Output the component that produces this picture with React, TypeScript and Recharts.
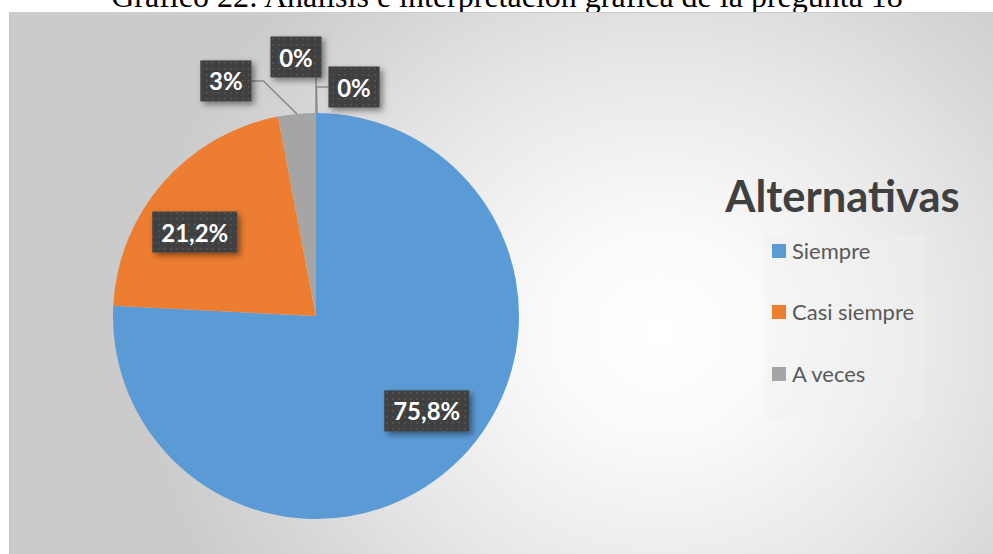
import React from 'react';
import { PieChart, Pie, Cell, Legend } from 'recharts';

// Chart values
const categories = ['Siempre', 'Casi siempre', 'A veces', 'Casi nunca', 'Nunca'];
const percentages = [75.8, 21.2, 3, 0, 0];
const sliceColors = ['#5B9BD5', '#ED7D31', '#A5A5A5', '#FFC000', '#4472C4'];

const chartTitle = 'Gráfico 22: Análisis e interpretación gráfica de la pregunta 18';
const legendTitle = 'Alternativas';

// label placement: radius factor from centre plus a small nudge (inside labels),
// or an offset from the slice's outer edge (callout labels)
const labelLayout = [
  { inside: true, r: 0.72, dx: 10, dy: -11 },
  { inside: true, r: 0.72, dx: -11, dy: 12 },
  { inside: false, r: 1, dx: -71, dy: -33 },
  { inside: false, r: 1, dx: -20, dy: -56 },
  { inside: false, r: 1, dx: 38, dy: -26 },
];

const pieData = categories.map((name, i) => ({ name, value: percentages[i] }));

const RADIAN = Math.PI / 180;

const formatPct = (v: number) =>
  Number.isInteger(v) ? `${v}%` : `${v.toFixed(1).replace('.', ',')}%`;

// rough glyph widths for Lato Bold, in em
const textWidth = (s: string, size: number) =>
  s.split('').reduce((w, ch) => {
    if (ch === '%') return w + 0.8;
    if (ch === ',') return w + 0.25;
    return w + 0.58;
  }, 0) * size;

const renderLabel = (props: any) => {
  const { cx, cy, midAngle, outerRadius, index, value } = props;
  const lay = labelLayout[index];
  if (!lay) return null;
  const cos = Math.cos(-midAngle * RADIAN);
  const sin = Math.sin(-midAngle * RADIAN);
  const text = formatPct(value);
  const fontSize = 24;
  const w = textWidth(text, fontSize) + 18;
  const h = 41;

  let bx: number;
  let by: number;
  let line: string | null = null;
  if (lay.inside) {
    bx = cx + outerRadius * lay.r * cos + lay.dx;
    by = cy + outerRadius * lay.r * sin + lay.dy;
  } else {
    const ax = cx + outerRadius * cos;
    const ay = cy + outerRadius * sin;
    bx = ax + lay.dx;
    by = ay + lay.dy;
    const left = bx - w / 2;
    const right = bx + w / 2;
    if (ax >= left && ax <= right) {
      line = `M${ax},${ay}L${ax},${by + h / 2}`;
    } else if (ax > right) {
      line = `M${ax},${ay}L${right + 12},${by}L${right},${by}`;
    } else {
      line = `M${ax + 1},${ay}L${left - 12},${by}L${left},${by}`;
    }
  }

  return (
    <g key={`lbl-${index}`}>
      {line && <path d={line} stroke="#8a8a8a" strokeWidth={1.5} fill="none" />}
      <g filter="url(#lblShadow)">
        <rect x={bx - w / 2} y={by - h / 2} width={w} height={h} fill="#404040" />
      </g>
      <rect x={bx - w / 2} y={by - h / 2} width={w} height={h} fill="url(#dots)" />
      <text
        x={bx}
        y={by}
        textAnchor="middle"
        dominantBaseline="central"
        fill="#ffffff"
        fontFamily="Lato, sans-serif"
        fontWeight={700}
        fontSize={fontSize}
      >
        {text}
      </text>
    </g>
  );
};

const renderLegend = (props: any) => {
  const items = (props.payload || [])
    .filter((p: any) => {
      const idx = categories.indexOf(p.value);
      return idx >= 0 && percentages[idx] > 0;
    })
    .sort((a: any, b: any) => categories.indexOf(a.value) - categories.indexOf(b.value));
  return (
    <div style={{ position: 'relative', width: 293, height: 270 }}>
      <div
        style={{
          position: 'absolute',
          left: 0,
          top: 14,
          width: 285,
          textAlign: 'center',
          fontFamily: 'Lato, sans-serif',
          fontWeight: 700,
          fontSize: 43.5,
          lineHeight: '43px',
          color: '#404040',
        }}
      >
        {legendTitle}
      </div>
      <div
        style={{
          position: 'absolute',
          left: 64,
          top: 75,
          width: 161,
          height: 183,
          background: 'rgba(240,240,240,0.4)',
        }}
      />
      {items.map((p: any, i: number) => (
        <div
          key={p.value}
          style={{
            position: 'absolute',
            left: 72,
            top: 80 + i * 61.3,
            height: 22,
            display: 'flex',
            alignItems: 'center',
            whiteSpace: 'nowrap',
          }}
        >
          <span style={{ width: 14, height: 14, background: p.color, display: 'inline-block', marginRight: 6 }} />
          <span
            style={{
              fontFamily: 'Lato, sans-serif',
              fontSize: 22,
              lineHeight: '22px',
              color: '#595959',
            }}
          >
            {p.value}
          </span>
        </div>
      ))}
    </div>
  );
};

export default function App() {
  return (
    <div style={{ position: 'absolute', left: 0, top: 0, width: 993, height: 554, background: '#ffffff', overflow: 'hidden' }}>
      <div
        style={{
          position: 'absolute',
          left: 507,
          top: -20,
          transform: 'translateX(-50%)',
          whiteSpace: 'nowrap',
          fontFamily: '"Liberation Serif", "Times New Roman", serif',
          fontSize: 32,
          lineHeight: '32px',
          color: '#000000',
        }}
      >
        {chartTitle}
      </div>
      <div
        style={{
          position: 'absolute',
          left: 9,
          top: 12,
          width: 984,
          height: 542,
          boxSizing: 'border-box',
          borderLeft: '1px solid #c4c4c4',
          borderTop: '1px solid #cccccc',
          background:
            'radial-gradient(ellipse 520px 480px at 650px 320px, #ffffff 0%, #fafafa 22%, #e8e8e8 55%, #d6d6d6 82%, #cbcbcb 100%)',
        }}
      />
      <div style={{ position: 'absolute', left: 0, top: 0 }}>
        <PieChart width={993} height={554} margin={{ top: 0, right: 0, bottom: 0, left: 0 }}>
          <defs>
            <pattern id="dots" width="6" height="6" patternUnits="userSpaceOnUse">
              <rect x="2" y="2" width="1.6" height="1.6" fill="#575757" />
            </pattern>
            <filter id="lblShadow" x="-30%" y="-30%" width="160%" height="160%">
              <feDropShadow dx="3" dy="3" stdDeviation="3" floodColor="#000000" floodOpacity="0.45" />
            </filter>
          </defs>
          <Pie
            data={pieData}
            dataKey="value"
            nameKey="name"
            cx={316}
            cy={316}
            outerRadius={203}
            startAngle={90}
            endAngle={-270}
            stroke="none"
            labelLine={false}
            label={renderLabel}
            isAnimationActive={false}
          >
            {pieData.map((d, i) => (
              <Cell key={d.name} fill={sliceColors[i]} />
            ))}
          </Pie>
          <Legend
            content={renderLegend}
            wrapperStyle={{ position: 'absolute', left: 700, top: 160, width: 293, height: 270 }}
          />
        </PieChart>
      </div>
    </div>
  );
}
